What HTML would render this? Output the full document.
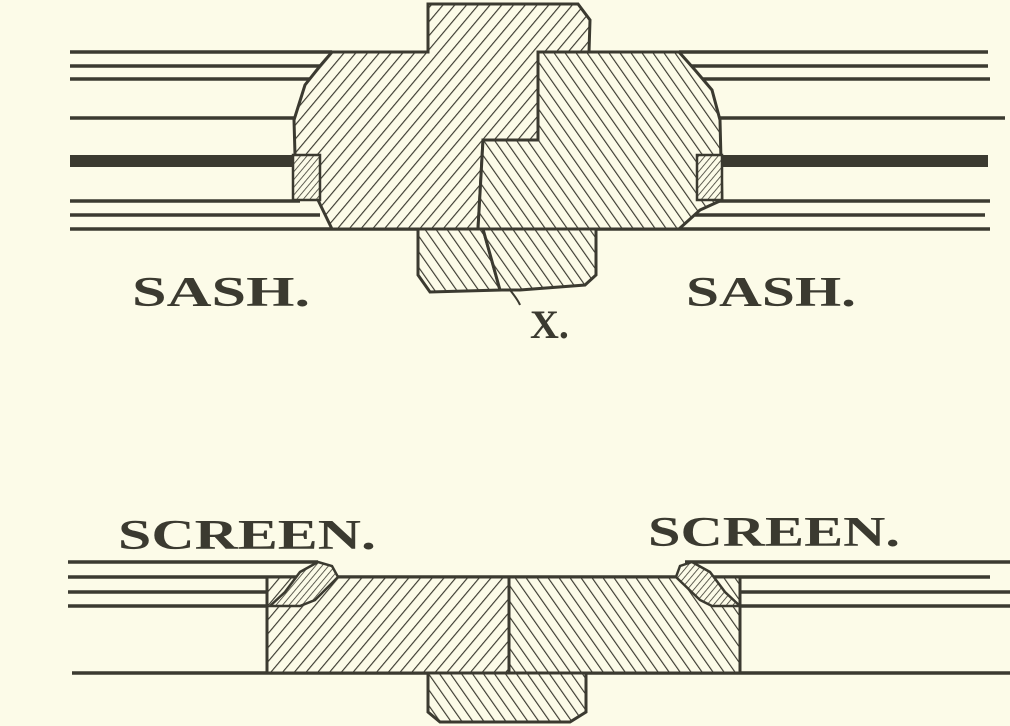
<!DOCTYPE html>
<html><head><style>
html,body{margin:0;padding:0;background:#fcfbe8;}
svg{display:block;}
text{font-family:"Liberation Serif",serif;font-weight:bold;fill:#3b3a30;}
</style></head><body>
<svg width="1010" height="726" viewBox="0 0 1010 726">
<defs>
<pattern id="hr" width="9" height="9" patternUnits="userSpaceOnUse" patternTransform="rotate(40)">
<rect width="9" height="9" fill="#fcfbe8"/><line x1="0" y1="0" x2="0" y2="9" stroke="#3b3a30" stroke-width="2.3"/></pattern>
<pattern id="hl" width="9" height="9" patternUnits="userSpaceOnUse" patternTransform="rotate(-35)">
<rect width="9" height="9" fill="#fcfbe8"/><line x1="0" y1="0" x2="0" y2="9" stroke="#3b3a30" stroke-width="2.3"/></pattern>
<pattern id="hs" width="5" height="5" patternUnits="userSpaceOnUse" patternTransform="rotate(40)">
<rect width="5" height="5" fill="#fcfbe8"/><line x1="0" y1="0" x2="0" y2="5" stroke="#3b3a30" stroke-width="1.6"/></pattern>
</defs>
<g stroke="#3b3a30" fill="none">
<g stroke-width="3.5">
<line x1="70" y1="52" x2="332" y2="52"/><line x1="70" y1="66" x2="320" y2="66"/><line x1="70" y1="79" x2="310" y2="79"/>
<line x1="70" y1="118" x2="297" y2="118"/>
<line x1="70" y1="201" x2="300" y2="201"/><line x1="70" y1="215" x2="320" y2="215"/><line x1="70" y1="229" x2="990" y2="229"/>
<line x1="679" y1="52" x2="988" y2="52"/><line x1="690" y1="66" x2="988" y2="66"/><line x1="700" y1="79" x2="990" y2="79"/>
<line x1="718" y1="118" x2="1005" y2="118"/>
<line x1="715" y1="201" x2="990" y2="201"/><line x1="695" y1="215" x2="985" y2="215"/>
</g>
<rect x="70" y="155" width="225" height="12" fill="#3b3a30" stroke="none"/>
<rect x="720" y="155" width="268" height="12" fill="#3b3a30" stroke="none"/>
<path d="M428 52 L428 4 L578 4 L590 20 L589 52 L538 52 L538 140 L483 140 L478 229 L332 229 L318 200 L296 190 L294 120 L305 85 L320 66 L332 52 Z" fill="url(#hr)" stroke-width="3"/>
<path d="M538 52 L679 52 L695 70 L712 90 L720 120 L722 200 L700 210 L679 229 L478 229 L483 140 L538 140 Z" fill="url(#hl)" stroke-width="3"/>
<rect x="293" y="155" width="27" height="45" fill="url(#hs)" stroke-width="2.5"/>
<rect x="697" y="155" width="25" height="45" fill="url(#hs)" stroke-width="2.5"/>
<path d="M418 229 L418 275 L430 292 L500 290 L483 229 Z" fill="url(#hl)" stroke-width="3"/>
<path d="M483 229 L596 229 L596 275 L585 285 L520 290 L500 290 Z" fill="url(#hl)" stroke-width="3"/>
<path d="M510 290 Q518 300 520 305" stroke-width="2"/>
<g stroke-width="3.5">
<line x1="68" y1="562" x2="318" y2="562"/><line x1="68" y1="577" x2="990" y2="577"/>
<line x1="68" y1="592" x2="282" y2="592"/><line x1="68" y1="606" x2="270" y2="606"/>
<line x1="685" y1="562" x2="1010" y2="562"/><line x1="720" y1="592" x2="1010" y2="592"/><line x1="740" y1="606" x2="1010" y2="606"/>
<line x1="72" y1="673" x2="1010" y2="673"/>
</g>
<path d="M267 577 L509 577 L509 673 L267 673 Z" fill="url(#hr)" stroke-width="3"/>
<path d="M509 577 L740 577 L740 673 L509 673 Z" fill="url(#hl)" stroke-width="3"/>
<path d="M270 606 L285 592 L300 572 L318 562 L332 566 L338 577 L315 600 L300 606 Z" fill="url(#hs)" stroke-width="2.5"/>
<path d="M740 606 L725 592 L710 572 L692 562 L680 566 L676 577 L700 600 L712 606 Z" fill="url(#hs)" stroke-width="2.5"/>
<path d="M428 673 L586 673 L586 712 L570 722 L440 722 L428 712 Z" fill="url(#hl)" stroke-width="3"/>
</g>
<text x="132" y="306" font-size="42" textLength="178" lengthAdjust="spacingAndGlyphs">SASH.</text>
<text x="686" y="306" font-size="42" textLength="170" lengthAdjust="spacingAndGlyphs">SASH.</text>
<text x="530" y="338" font-size="40">X.</text>
<text x="118" y="549" font-size="42" textLength="258" lengthAdjust="spacingAndGlyphs">SCREEN.</text>
<text x="648" y="546" font-size="42" textLength="252" lengthAdjust="spacingAndGlyphs">SCREEN.</text>
</svg>
</body></html>
